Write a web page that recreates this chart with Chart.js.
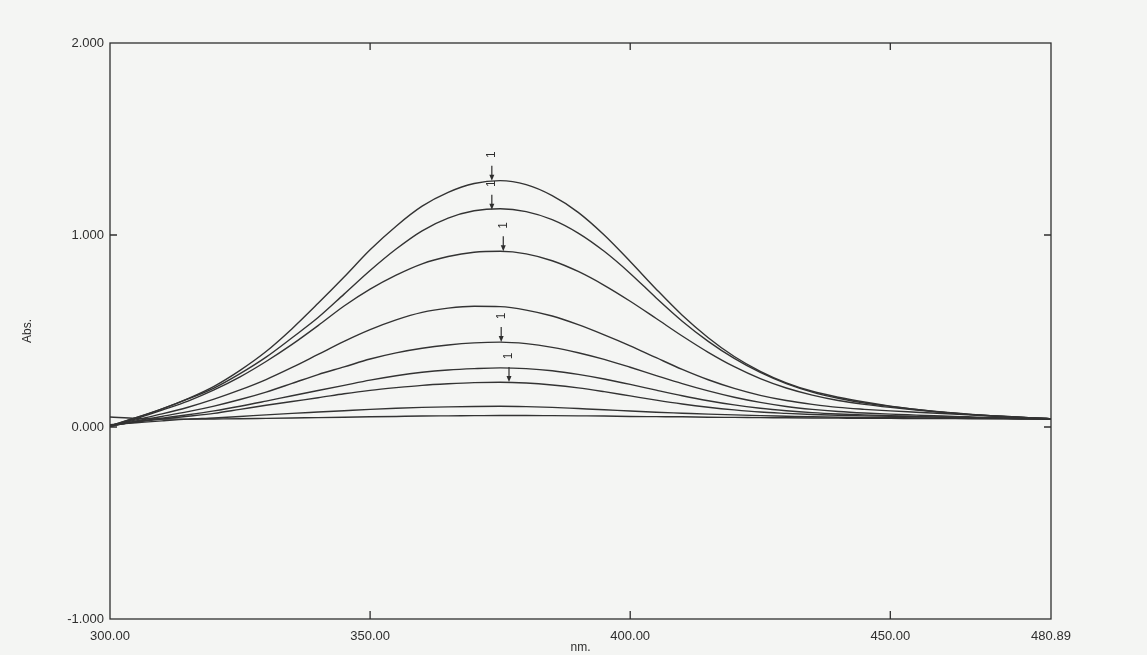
<!DOCTYPE html>
<html>
<head>
<meta charset="utf-8">
<script src="https://cdn.jsdelivr.net/npm/chart.js@4"></script>
<style>
  html, body { margin: 0; padding: 0; background: #f4f5f3; }
  #wrap { width: 1147px; height: 655px; }
</style>
</head>
<body>
<div id="wrap"><canvas id="c" width="1147" height="655"></canvas></div>
<script>
// ---- Data ----
const wavelengths = [300,305,310,315,320,325,330,335,340,345,350,355,360,365,370,375,380,385,390,395,400,405,410,415,420,425,430,435,440,445,450,455,460,465,470,475,480,480.89];

const curve1 = [0.007,0.048,0.094,0.148,0.212,0.295,0.393,0.512,0.644,0.781,0.923,1.046,1.150,1.222,1.268,1.283,1.262,1.205,1.118,1.000,0.862,0.718,0.582,0.465,0.367,0.290,0.230,0.186,0.155,0.130,0.109,0.092,0.078,0.067,0.058,0.051,0.044,0.043];
const curve2 = [0.007,0.048,0.094,0.146,0.203,0.278,0.364,0.465,0.570,0.692,0.815,0.927,1.022,1.088,1.126,1.137,1.122,1.080,1.010,0.915,0.800,0.672,0.551,0.446,0.357,0.284,0.226,0.182,0.150,0.125,0.107,0.091,0.077,0.066,0.057,0.050,0.044,0.043];
const curve3 = [0.005,0.043,0.088,0.135,0.193,0.261,0.341,0.430,0.528,0.630,0.718,0.791,0.850,0.888,0.910,0.915,0.902,0.866,0.810,0.738,0.655,0.565,0.474,0.389,0.314,0.252,0.203,0.166,0.138,0.118,0.102,0.088,0.076,0.066,0.058,0.051,0.044,0.043];
const curve4 = [0.003,0.037,0.068,0.103,0.145,0.193,0.247,0.310,0.378,0.446,0.507,0.558,0.597,0.619,0.629,0.627,0.609,0.578,0.533,0.480,0.423,0.361,0.300,0.246,0.201,0.165,0.138,0.118,0.102,0.092,0.084,0.077,0.070,0.063,0.056,0.050,0.044,0.043];
const curve5 = [0.003,0.031,0.055,0.080,0.109,0.143,0.182,0.227,0.273,0.313,0.354,0.386,0.410,0.427,0.438,0.442,0.434,0.415,0.387,0.352,0.311,0.268,0.226,0.188,0.155,0.128,0.107,0.092,0.081,0.073,0.067,0.062,0.057,0.053,0.049,0.046,0.043,0.042];
const curve6 = [0.005,0.028,0.046,0.064,0.084,0.108,0.135,0.163,0.190,0.217,0.244,0.267,0.285,0.297,0.304,0.308,0.304,0.293,0.274,0.250,0.222,0.192,0.163,0.137,0.115,0.098,0.085,0.075,0.068,0.063,0.059,0.055,0.052,0.049,0.046,0.044,0.042,0.042];
const curve7 = [0.008,0.026,0.042,0.056,0.071,0.092,0.113,0.133,0.152,0.173,0.191,0.205,0.217,0.225,0.231,0.233,0.229,0.219,0.204,0.184,0.162,0.140,0.120,0.103,0.089,0.078,0.071,0.065,0.061,0.058,0.056,0.053,0.051,0.049,0.046,0.044,0.043,0.042];
const curve8 = [0.012,0.022,0.032,0.041,0.047,0.055,0.063,0.071,0.078,0.085,0.092,0.098,0.102,0.105,0.107,0.108,0.106,0.102,0.096,0.090,0.083,0.077,0.072,0.067,0.063,0.059,0.056,0.053,0.051,0.050,0.049,0.047,0.046,0.045,0.044,0.043,0.042,0.042];
const curve9 = [0.052,0.045,0.042,0.041,0.042,0.043,0.045,0.047,0.049,0.051,0.053,0.055,0.057,0.058,0.059,0.060,0.060,0.059,0.058,0.057,0.055,0.054,0.053,0.051,0.050,0.049,0.048,0.047,0.046,0.045,0.045,0.044,0.044,0.043,0.043,0.042,0.042,0.042];

const xTickValues = [300, 350, 400, 450, 480.89];
const yTickValues = [-1, 0, 1, 2];
const innerXTicks = [350, 400, 450];
const innerYTicks = [0, 1];

// arrow markers ("1") on the peaks
const arrowNm  = [373.4, 373.4, 375.6, 375.2, 376.7];
const arrowAbs = [1.283, 1.132, 0.915, 0.443, 0.235];
const arrowText = ['1', '1', '1', '1', '1'];

const series = [curve1, curve2, curve3, curve4, curve5, curve6, curve7, curve8, curve9];

// ---- Chart ----
const INK = '#2e2e2e';
const FONT = "'Liberation Sans', Arial, sans-serif";

const datasets = series.map((s, k) => ({
  label: 'scan ' + (k + 1),
  data: wavelengths.map((w, i) => ({ x: w, y: s[i] })),
  borderColor: '#333333',
  borderWidth: 1.4,
  pointRadius: 0,
  fill: false,
  cubicInterpolationMode: 'monotone'
}));

const framePlugin = {
  id: 'frame',
  beforeDraw(chart) {
    const ctx = chart.ctx;
    ctx.save();
    ctx.fillStyle = '#f4f5f3';
    ctx.fillRect(0, 0, chart.width, chart.height);
    ctx.restore();
  },
  afterDraw(chart) {
    const { ctx, chartArea: a, scales } = chart;
    const xs = scales.x, ys = scales.y;
    ctx.save();
    ctx.strokeStyle = INK;
    ctx.lineWidth = 1.3;
    ctx.strokeRect(a.left, a.top, a.right - a.left, a.bottom - a.top);
    ctx.beginPath();
    innerXTicks.forEach(v => {
      const px = xs.getPixelForValue(v);
      ctx.moveTo(px, a.bottom); ctx.lineTo(px, a.bottom - 8);
      ctx.moveTo(px, a.top); ctx.lineTo(px, a.top + 7);
    });
    innerYTicks.forEach(v => {
      const py = ys.getPixelForValue(v);
      ctx.moveTo(a.left, py); ctx.lineTo(a.left + 7, py);
      ctx.moveTo(a.right, py); ctx.lineTo(a.right - 7, py);
    });
    ctx.stroke();

    // arrows
    ctx.fillStyle = INK;
    ctx.lineWidth = 1.2;
    arrowNm.forEach((nm, i) => {
      const px = xs.getPixelForValue(nm);
      const py = ys.getPixelForValue(arrowAbs[i]);
      ctx.beginPath();
      ctx.moveTo(px, py - 15); ctx.lineTo(px, py - 4);
      ctx.stroke();
      ctx.beginPath();
      ctx.moveTo(px - 2.5, py - 6); ctx.lineTo(px + 2.5, py - 6); ctx.lineTo(px, py);
      ctx.closePath(); ctx.fill();
      ctx.save();
      ctx.translate(px, py - 26);
      ctx.rotate(-Math.PI / 2);
      ctx.font = "12px " + FONT;
      ctx.textAlign = 'center';
      ctx.textBaseline = 'middle';
      ctx.fillText(arrowText[i], 0, 0);
      ctx.restore();
    });
    ctx.restore();
  }
};

new Chart(document.getElementById('c'), {
  type: 'line',
  data: { datasets },
  options: {
    responsive: false,
    animation: false,
    devicePixelRatio: 1,
    layout: { padding: { left: 0, right: 96, top: 43, bottom: 0 } },
    plugins: { legend: { display: false }, tooltip: { enabled: false } },
    scales: {
      x: {
        type: 'linear',
        min: 300, max: 480.89,
        afterBuildTicks: s => { s.ticks = xTickValues.map(v => ({ value: v })); },
        afterFit: s => { s.height = 36; },
        grid: { display: false, drawTicks: false },
        border: { display: false },
        ticks: {
          color: INK, padding: 10, maxRotation: 0, autoSkip: false,
          font: { family: FONT, size: 13 },
          callback: v => Number(v).toFixed(2)
        },
        title: { display: true, text: 'nm.', color: INK, font: { family: FONT, size: 12 }, padding: { top: 0, bottom: 0 } }
      },
      y: {
        type: 'linear',
        min: -1, max: 2,
        afterBuildTicks: s => { s.ticks = yTickValues.map(v => ({ value: v })); },
        afterFit: s => { s.width = 110; },
        grid: { display: false, drawTicks: false },
        border: { display: false },
        ticks: {
          color: INK, padding: 6,
          font: { family: FONT, size: 13 },
          callback: v => Number(v).toFixed(3)
        },
        title: { display: true, text: 'Abs.', color: INK, font: { family: FONT, size: 12 }, padding: { top: 20, bottom: 0 } }
      }
    }
  },
  plugins: [framePlugin]
});
</script>
</body>
</html>
